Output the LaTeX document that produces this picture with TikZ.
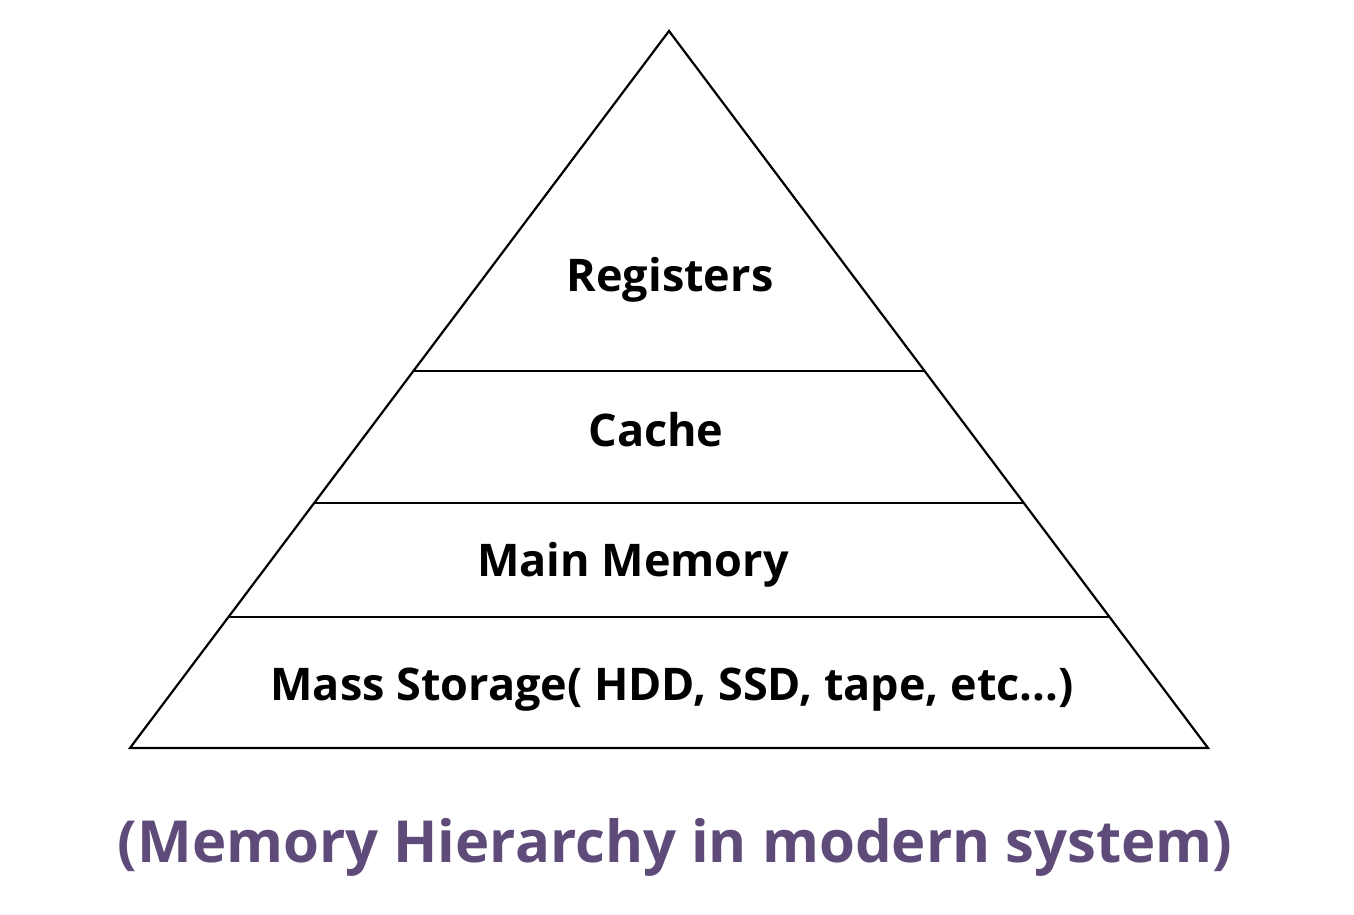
\documentclass[tikz,border=0pt]{standalone}
\usepackage{fontspec}
\setmainfont{Open Sans}
\definecolor{capcol}{RGB}{94,75,122}
\begin{document}
\begin{tikzpicture}[x=1pt,y=-1pt,
  edge/.style={draw=black,line width=2.2pt,line join=miter},
  lvl/.style={anchor=base,inner sep=0pt,font=\fontsize{45}{50}\selectfont\bfseries},
  captext/.style={anchor=base,inner sep=0pt,text=capcol,font=\fontsize{58}{64}\selectfont\bfseries}]
\useasboundingbox (0,0) rectangle (1354,914);
\coordinate (apex) at (669,31);
\coordinate (bl) at (130,748);
\coordinate (br) at (1208,748);
\coordinate (l1) at (413.5,371);
\coordinate (r1) at (924.5,371);
\coordinate (l2) at (314.5,503);
\coordinate (r2) at (1023.5,503);
\coordinate (l3) at (229,617);
\coordinate (r3) at (1109,617);
\draw[edge] (apex) -- (br) -- (bl) -- cycle;
\draw[edge] (l1) -- (r1);
\draw[edge] (l2) -- (r2);
\draw[edge] (l3) -- (r3);
\node[lvl] (reg) at (670,291) {Registers};
\node[lvl] (cache) at (656,446) {Cache};
\node[lvl] (main) at (633,576) {Main Memory};
\node[lvl] (mass) at (672,700) {Mass Storage( HDD, SSD, tape, etc...)};
\node[captext] (caption) at (675,862) {(Memory Hierarchy in modern system)};
\end{tikzpicture}
\end{document}
